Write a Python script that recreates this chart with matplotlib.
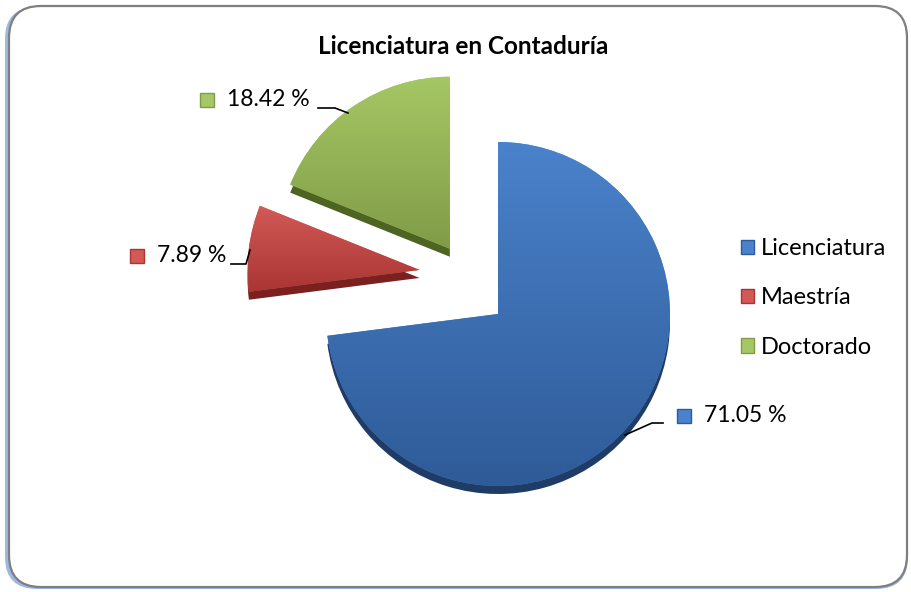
import numpy as np
import matplotlib
matplotlib.use("Agg")
import matplotlib.pyplot as plt
from matplotlib.patches import FancyBboxPatch, Patch
from matplotlib.colors import LinearSegmentedColormap

plt.rcParams['font.family'] = ['Lato', 'DejaVu Sans']

# data
categories = ["Licenciatura", "Maestría", "Doctorado"]
values = [71.05, 7.89, 18.42]
labels = ["71.05 %", "7.89 %", "18.42 %"]

top_light = ["#4A82CB", "#D25956", "#A6C765"]
top_dark = ["#2F5B98", "#A93633", "#809C47"]
side_col = ["#1E3C66", "#7A201E", "#4E6422"]

W, H = 911, 592
fig = plt.figure(figsize=(W / 100, H / 100), dpi=100)

# rounded frame with blueish shadow
shadow = FancyBboxPatch((5 / W, 3 / H), 903 / W, 582 / H,
                        boxstyle="round,pad=0,rounding_size=0.035",
                        transform=fig.transFigure, fc="#9DB9E3", ec="none",
                        mutation_aspect=W / H, zorder=0)
frame = FancyBboxPatch((9 / W, 5 / H), 898 / W, 581 / H,
                       boxstyle="round,pad=0,rounding_size=0.035",
                       transform=fig.transFigure, fc="white", ec="#7F7F7F",
                       lw=1.6, mutation_aspect=W / H, zorder=1)
fig.patches.extend([shadow, frame])

ax = fig.add_axes([0, 0, 1, 1])
ax.set_zorder(2)
ax.patch.set_visible(False)

cx, cy, R = 498, H - 314, 172
explode = [0, 0.46 * R, 0.5 * R]
lift = [0, 34, -6]   # perspective shift of the exploded slices
depth = 8

# side / thickness of the 3d pie
side, _ = ax.pie(values, colors=side_col, startangle=90, counterclock=False,
                 explode=explode, center=(cx, cy - depth), radius=R,
                 wedgeprops=dict(linewidth=0))
top, _ = ax.pie(values, colors=top_light, startangle=90, counterclock=False,
                explode=explode, center=(cx, cy), radius=R,
                wedgeprops=dict(linewidth=0))
for s, t, d in zip(side, top, lift):
    s.set_center((s.center[0], s.center[1] + d))
    t.set_center((t.center[0], t.center[1] + d))
    s.set_zorder(1)
    t.set_zorder(2)

grad = np.linspace(0, 1, 200).reshape(-1, 1)
for w, c0, c1 in zip(top, top_light, top_dark):
    bb = w.get_path().get_extents()
    cm = LinearSegmentedColormap.from_list("g", [c0, c1])
    im = ax.imshow(grad, cmap=cm, extent=(bb.x0, bb.x1, bb.y0, bb.y1),
                   origin="upper", aspect="auto", zorder=3, interpolation="bilinear")
    im.set_clip_path(w)

# data labels
label_pos = [(684, 416), (137, 256), (207, 100)]
for lab, (lx, ly), col, cd in zip(labels, label_pos, top_light, top_dark):
    ax.add_patch(plt.Rectangle((lx - 7, H - ly - 7), 14, 14, fc=col, ec=cd, lw=1, zorder=5))
    ax.text(lx + 20, H - ly, lab, fontsize=16.5, va="center", ha="left", zorder=5)

# leader lines (label end -> slice edge)
def leader(pts):
    xs, ys = zip(*pts)
    ax.plot(xs, [H - y for y in ys], color="black", lw=1.2, zorder=5)

leader([(663, 423), (652, 423), (625, 435)])
leader([(231, 264), (246, 264), (250, 250)])
leader([(318, 108), (335, 108), (348, 113)])

ax.set_xlim(0, W)
ax.set_ylim(0, H)
ax.set_aspect("auto")
ax.axis("off")

handles = [Patch(fc=c, ec=d, lw=1) for c, d in zip(top_light, top_dark)]
ax.legend(handles, categories, loc="center left", bbox_to_anchor=(741 / W, 1 - 298 / H),
          frameon=False, fontsize=17, handlelength=0.55, handleheight=0.55,
          handletextpad=0.3, labelspacing=1.2, borderpad=0, borderaxespad=0)

fig.text(463 / W, 1 - 46 / H, "Licenciatura en Contaduría", fontsize=17.5,
         fontweight="bold", ha="center", va="center", zorder=5)

fig.savefig("out.png", dpi=100)
